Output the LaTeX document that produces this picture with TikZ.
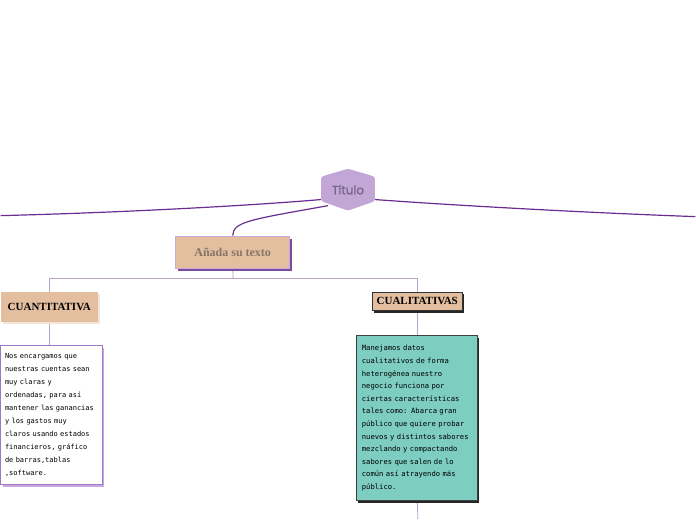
\documentclass[tikz,border=0pt]{standalone}
\usepackage{fontspec}
\newfontfamily\titlefont{Poppins}[UprightFeatures={FakeBold=1.2}]
\newfontfamily\labelfont{Liberation Serif}
\newfontfamily\notefont{DejaVu Sans Mono}
\usetikzlibrary{calc,shadows,backgrounds}
\definecolor{mainline}{HTML}{6A2C91}
\definecolor{hexfill}{HTML}{C2A6D6}
\definecolor{titletext}{HTML}{76668A}
\definecolor{peach}{HTML}{E3BF9F}
\definecolor{lavender}{HTML}{C9A9DC}
\definecolor{shadowpurple}{HTML}{7B4C9C}
\definecolor{branch}{HTML}{B5A3C8}
\definecolor{noteborder}{HTML}{9B79C6}
\definecolor{mint}{HTML}{7DCDC1}
\definecolor{addtext}{HTML}{857468}

\begin{document}
\begin{tikzpicture}[x=1pt,y=-1pt,
  title/.style={minimum width=54pt,minimum height=42pt,inner sep=0,
    font=\titlefont\fontsize{12}{14}\selectfont,text=titletext,
    path picture={\fill[hexfill,rounded corners=2.5pt] (path picture bounding box.north)
      -- ([yshift=-8pt]path picture bounding box.north east) -- ([yshift=9.5pt]path picture bounding box.south east)
      -- (path picture bounding box.south) -- ([yshift=9.5pt]path picture bounding box.south west)
      -- ([yshift=-8pt]path picture bounding box.north west) -- cycle;}},
  topic/.style={fill=peach,draw=lavender,line width=1pt,inner sep=0,
    font=\labelfont\bfseries\fontsize{12}{14}\selectfont,text=addtext,
    drop shadow={shadow xshift=2.5pt,shadow yshift=-2.5pt,fill=shadowpurple,opacity=1}},
  sub/.style={fill=peach,inner sep=0,font=\labelfont\bfseries\fontsize{11}{13}\selectfont},
  note/.style={anchor=north west,align=left,inner xsep=4.5pt,inner ysep=0,
    font=\notefont\fontsize{7}{13}\selectfont},
  main/.style={mainline,line width=1.2pt}, twig/.style={branch,line width=0.8pt}]
% central topic
\node[title] (title) at (348,190) {Título};
\node[topic,anchor=north west,minimum width=114pt,minimum height=32pt] (add) at (175,236) {Añada su texto};
% the two branches
\node[sub,anchor=north west,minimum width=97pt,minimum height=30pt,
  drop shadow={shadow xshift=2pt,shadow yshift=-2pt,fill=peach!40,opacity=1}] (quant) at (0,292) {CUANTITATIVA};
\node[sub,draw=black!80,line width=0.8pt,anchor=north west,minimum width=90pt,minimum height=19pt,
  drop shadow={shadow xshift=2pt,shadow yshift=-2pt,fill=black!85,opacity=1}] (qual) at (372,292) {CUALITATIVAS};
\node[note,fill=white,draw=noteborder,line width=0.9pt,text width=93pt,minimum height=139pt,
  drop shadow={shadow xshift=2pt,shadow yshift=-2pt,fill=lavender,opacity=1}] (quantnote) at (-0.5,346)
  {Nos encargamos que\\ nuestras cuentas sean\\ muy claras y\\ ordenadas, para así\\ mantener las ganancias\\
   y los gastos muy\\ claros usando estados\\ financieros, gráfico\\ de barras,tablas\\ ,software.};
\node[note,fill=mint,draw=black!75,line width=0.8pt,inner xsep=5.5pt,text width=110pt,minimum height=165pt,
  font=\notefont\fontsize{7.2}{12.6}\selectfont,
  drop shadow={shadow xshift=2pt,shadow yshift=-2pt,fill=black!85,opacity=1}] (qualnote) at (356,336)
  {Manejamos datos\\ cualitativos de forma\\ heterogénea nuestro\\ negocio funciona por\\ ciertas características\\
   tales como: Abarca gran\\ público que quiere probar\\ nuevos y distintos sabores\\ mezclando y compactando\\
   sabores que salen de lo\\ común así atrayendo más\\ público.};
\coordinate (leftend) at (0,216);
\coordinate (rightend) at (696,217);
\coordinate (split) at (233,279);
\coordinate (bottomend) at (418,520);
\begin{scope}[on background layer]
  \draw[main] (title.200) .. controls (250,206) and (120,213) .. (leftend);
  \draw[main] (title.-20) .. controls (430,204) and (560,212) .. (rightend);
  \draw[main] ($(title.center)+(-20,16)$) .. controls (250,220) and (233,222) .. (add.north);
  \draw[twig] (add.south) -- (split);
  \draw[twig] (split) -| (quant.north);
  \draw[twig] (split) -| (qual.north);
  \draw[twig] (quant.south) -- (quant.south |- quantnote.north);
  \draw[twig] (qual.south) -- (qual.south |- qualnote.north);
  \draw[twig] (qual.south |- qualnote.south) -- (bottomend);
\end{scope}
\useasboundingbox (0,0) rectangle (696,520);
\end{tikzpicture}
\end{document}
